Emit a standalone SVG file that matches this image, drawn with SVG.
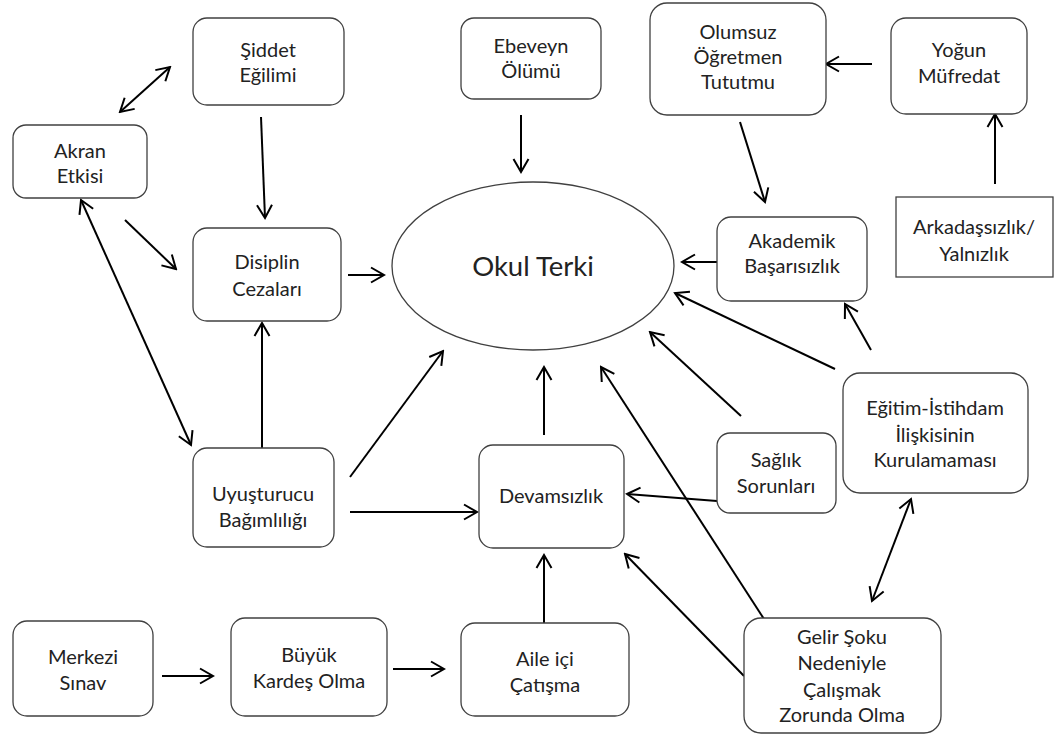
<svg xmlns="http://www.w3.org/2000/svg" width="1055" height="736" viewBox="0 0 1055 736">
<style>
.box{fill:#fff;stroke:#404040;stroke-width:1.3}
.t{font-family:Lato,"Noto Sans",sans-serif;font-size:20px;fill:#222;text-anchor:middle}
.big{font-size:27.5px}
.c{stroke:#000;stroke-width:2;fill:none;marker-end:url(#ah)}
.d{marker-start:url(#ah)}
</style>
<defs>
<marker id="ah" markerUnits="userSpaceOnUse" markerWidth="16" markerHeight="18" viewBox="0 0 16 18" refX="14" refY="9" orient="auto-start-reverse">
<path d="M1,1.5 L14,9 L1,16.5" fill="none" stroke="#000" stroke-width="2"/>
</marker>
</defs>
<rect width="1055" height="736" fill="#fff"/>
<g id="connectors">
<line class="c d" x1="120" y1="112" x2="170" y2="67"/>
<line class="c" x1="261" y1="117" x2="265" y2="218"/>
<line class="c" x1="125" y1="220" x2="176" y2="269"/>
<line class="c d" x1="81" y1="200" x2="191" y2="445"/>
<line class="c" x1="262" y1="448" x2="262" y2="323"/>
<line class="c" x1="348" y1="275" x2="384" y2="275"/>
<line class="c" x1="350" y1="477" x2="443" y2="351"/>
<line class="c" x1="350" y1="512" x2="477" y2="512"/>
<line class="c" x1="544" y1="435" x2="544" y2="367"/>
<line class="c" x1="544" y1="623" x2="544" y2="555"/>
<line class="c" x1="162" y1="676" x2="213" y2="676"/>
<line class="c" x1="393" y1="669" x2="444" y2="669"/>
<line class="c" x1="521" y1="115" x2="521" y2="172"/>
<line class="c" x1="872" y1="64" x2="826" y2="64"/>
<line class="c" x1="995" y1="184" x2="995" y2="114"/>
<line class="c" x1="740" y1="122" x2="765" y2="202"/>
<line class="c" x1="717" y1="262" x2="682" y2="262"/>
<line class="c" x1="835" y1="369" x2="675" y2="293"/>
<line class="c" x1="871" y1="350" x2="845" y2="304"/>
<line class="c" x1="741" y1="416" x2="650" y2="332"/>
<line class="c" x1="717" y1="501" x2="627" y2="494"/>
<line class="c" x1="764" y1="619" x2="601" y2="367"/>
<line class="c" x1="744" y1="676" x2="625" y2="554"/>
<line class="c d" x1="911" y1="499" x2="872" y2="601"/>
</g>
<g id="okul-terki"><ellipse class="box" cx="533" cy="266" rx="141" ry="84"/><text class="t big" x="533" y="276">Okul Terki</text></g>
<g id="siddet"><rect class="box" x="193" y="18" width="151" height="87" rx="14"/><text class="t" x="268" y="57">Şiddet</text><text class="t" x="268" y="82">Eğilimi</text></g>
<g id="akran"><rect class="box" x="13" y="125" width="134" height="73" rx="13"/><text class="t" x="80" y="158">Akran</text><text class="t" x="80" y="183">Etkisi</text></g>
<g id="ebeveyn"><rect class="box" x="461" y="18" width="140" height="81" rx="13"/><text class="t" x="531" y="53">Ebeveyn</text><text class="t" x="531" y="78">Ölümü</text></g>
<g id="olumsuz"><rect class="box" x="650" y="3" width="176" height="112" rx="17"/><text class="t" x="738" y="39">Olumsuz</text><text class="t" x="738" y="64">Öğretmen</text><text class="t" x="738" y="89">Tututmu</text></g>
<g id="yogun"><rect class="box" x="891" y="18" width="136" height="96" rx="15"/><text class="t" x="959" y="57">Yoğun</text><text class="t" x="959" y="83">Müfredat</text></g>
<g id="arkadas"><rect class="box" x="896" y="197" width="157" height="80"/><text class="t" x="974" y="234">Arkadaşsızlık/</text><text class="t" x="974" y="261">Yalnızlık</text></g>
<g id="akademik"><rect class="box" x="717" y="217" width="150" height="84" rx="14"/><text class="t" x="792" y="248">Akademik</text><text class="t" x="792" y="273">Başarısızlık</text></g>
<g id="disiplin"><rect class="box" x="193" y="228" width="148" height="93" rx="14"/><text class="t" x="267" y="269">Disiplin</text><text class="t" x="267" y="296">Cezaları</text></g>
<g id="uyusturucu"><rect class="box" x="193" y="448" width="141" height="99" rx="14"/><text class="t" x="263" y="501">Uyuşturucu</text><text class="t" x="263" y="527">Bağımlılığı</text></g>
<g id="devamsizlik"><rect class="box" x="479" y="445" width="145" height="103" rx="14"/><text class="t" x="551" y="503">Devamsızlık</text></g>
<g id="saglik"><rect class="box" x="717" y="433" width="119" height="80" rx="13"/><text class="t" x="776" y="467">Sağlık</text><text class="t" x="776" y="493">Sorunları</text></g>
<g id="egitim"><rect class="box" x="843" y="373" width="185" height="120" rx="17"/><text class="t" x="935" y="415">Eğitim-İstihdam</text><text class="t" x="935" y="442">İlişkisinin</text><text class="t" x="935" y="467">Kurulamaması</text></g>
<g id="gelir"><rect class="box" x="744" y="618" width="197" height="115" rx="17"/><text class="t" x="842" y="644">Gelir Şoku</text><text class="t" x="842" y="670">Nedeniyle</text><text class="t" x="842" y="697">Çalışmak</text><text class="t" x="842" y="722">Zorunda Olma</text></g>
<g id="merkezi"><rect class="box" x="13" y="621" width="140" height="95" rx="14"/><text class="t" x="83" y="664">Merkezi</text><text class="t" x="83" y="690">Sınav</text></g>
<g id="buyuk"><rect class="box" x="231" y="618" width="156" height="98" rx="14"/><text class="t" x="309" y="662">Büyük</text><text class="t" x="309" y="688">Kardeş Olma</text></g>
<g id="aile"><rect class="box" x="461" y="623" width="168" height="93" rx="14"/><text class="t" x="545" y="666">Aile içi</text><text class="t" x="545" y="692">Çatışma</text></g>
</svg>
